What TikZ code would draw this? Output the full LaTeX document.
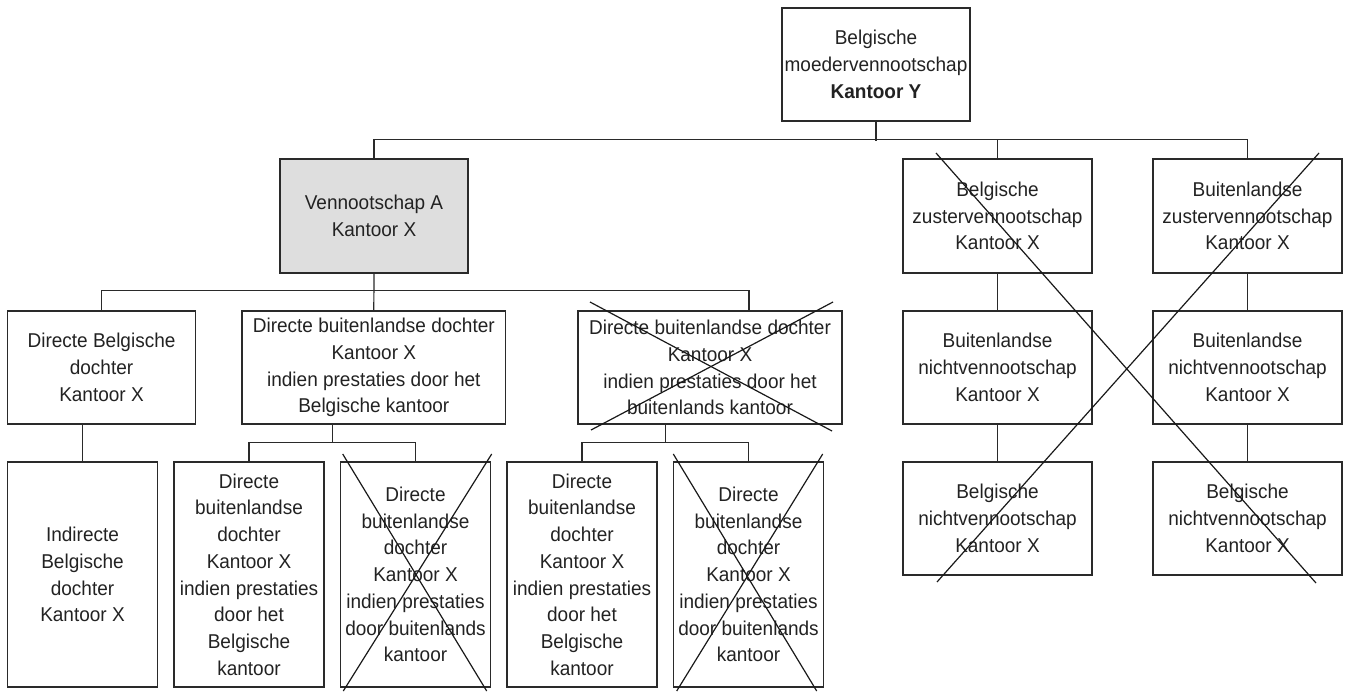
\documentclass[tikz,border=0pt]{standalone}
\usepackage{fontspec}
\setmainfont{Liberation Sans}[FakeStretch=0.95]
\definecolor{linec}{HTML}{2A2A2A}
\definecolor{textc}{HTML}{222222}
\definecolor{fillc}{HTML}{DEDEDE}
\begin{document}
\begin{tikzpicture}[x=1pt,y=-1pt,
  box/.style={draw=linec, line width=1.2pt, align=center, inner sep=0pt, text=textc,
    font=\fontsize{20}{26.7}\selectfont},
  conn/.style={draw=linec, line width=1.2pt},
  strike/.style={draw=black!90, line width=1.2pt}]
\useasboundingbox (0,0) rectangle (1349,691);

% level 0
\node[box, minimum width=188pt, minimum height=113pt] (top) at (876,64.5)
  {Belgische\\moedervennootschap\\\textbf{Kantoor Y}};

% level 1
\node[box, fill=fillc, minimum width=188pt, minimum height=114pt] (A) at (374,216)
  {Vennootschap A\\Kantoor X};
\node[box, minimum width=189pt, minimum height=114pt] (Z1) at (997.5,216)
  {Belgische\\zustervennootschap\\Kantoor X};
\node[box, minimum width=189pt, minimum height=114pt] (Z2) at (1247.5,216)
  {Buitenlandse\\zustervennootschap\\Kantoor X};

% level 2
\node[box, minimum width=188.4pt, minimum height=113pt] (D1) at (101.5,367.5)
  {Directe Belgische\\dochter\\Kantoor X};
\node[box, minimum width=263.5pt, minimum height=113pt] (D2) at (373.8,367.5)
  {Directe buitenlandse dochter\\Kantoor X\\indien prestaties door het\\Belgische kantoor};
\node[box, minimum width=264pt, minimum height=113pt] (D3) at (710,367.5)
  {Directe buitenlandse dochter\\Kantoor X\\indien prestaties door het\\buitenlands kantoor};
\node[box, minimum width=189pt, minimum height=113pt] (N1) at (997.5,367.5)
  {Buitenlandse\\nichtvennootschap\\Kantoor X};
\node[box, minimum width=189pt, minimum height=113pt] (N2) at (1247.5,367.5)
  {Buitenlandse\\nichtvennootschap\\Kantoor X};

% level 3
\node[box, minimum width=150.4pt, minimum height=225pt] (I) at (82.5,574.5)
  {Indirecte\\Belgische\\dochter\\Kantoor X};
\node[box, minimum width=150pt, minimum height=225pt] (E1) at (249,574.5)
  {Directe\\buitenlandse\\dochter\\Kantoor X\\indien prestaties\\door het\\Belgische\\kantoor};
\node[box, minimum width=150.4pt, minimum height=225pt] (E2) at (415.5,574.5)
  {Directe\\buitenlandse\\dochter\\Kantoor X\\indien prestaties\\door buitenlands\\kantoor};
\node[box, minimum width=150pt, minimum height=225pt] (E3) at (582,574.5)
  {Directe\\buitenlandse\\dochter\\Kantoor X\\indien prestaties\\door het\\Belgische\\kantoor};
\node[box, minimum width=150pt, minimum height=225pt] (E4) at (748.5,574.5)
  {Directe\\buitenlandse\\dochter\\Kantoor X\\indien prestaties\\door buitenlands\\kantoor};
\node[box, minimum width=189pt, minimum height=113pt] (B1) at (997.5,518.5)
  {Belgische\\nichtvennootschap\\Kantoor X};
\node[box, minimum width=189pt, minimum height=113pt] (B2) at (1247.5,518.5)
  {Belgische\\nichtvennootschap\\Kantoor X};

% connectors
\draw[conn] (top.south) -- ++(0,19);
\draw[conn] (A.north) -- ++(0,-19) -| (Z2.north);
\draw[conn] (Z1.north) -- ++(0,-19);

\draw[conn] (D1.north) -- ++(0,-20) -| ([xshift=39pt]D3.north);
\draw[conn] (A.south) -- (D2.north);
\draw[conn] (I.north) -- (I.north |- D1.south);

\draw[conn] (E1.north) -- ++(0,-19) -| (E2.north);
\draw[conn] ([xshift=-41.3pt]D2.south) -- ++(0,18.7);
\draw[conn] (E3.north) -- ++(0,-19) -| (E4.north);
\draw[conn] ([xshift=-44.3pt]D3.south) -- ++(0,18.7);

\draw[conn] (Z1.south) -- (N1.north);
\draw[conn] (N1.south) -- (B1.north);
\draw[conn] (Z2.south) -- (N2.north);
\draw[conn] (N2.south) -- (B2.north);

% strike-through crosses
\draw[strike] (936,153) -- (1316,583);
\draw[strike] (1319,153) -- (937,582);
\draw[strike] (590,302) -- (832,431);
\draw[strike] (591,430) -- (833,302);
\draw[strike] (342.7,454) -- (486.7,691);
\draw[strike] (491.7,454) -- (343.3,691);
\draw[strike] (673.3,454) -- (816.7,691);
\draw[strike] (822.7,454) -- (676.7,691);
\end{tikzpicture}
\end{document}
